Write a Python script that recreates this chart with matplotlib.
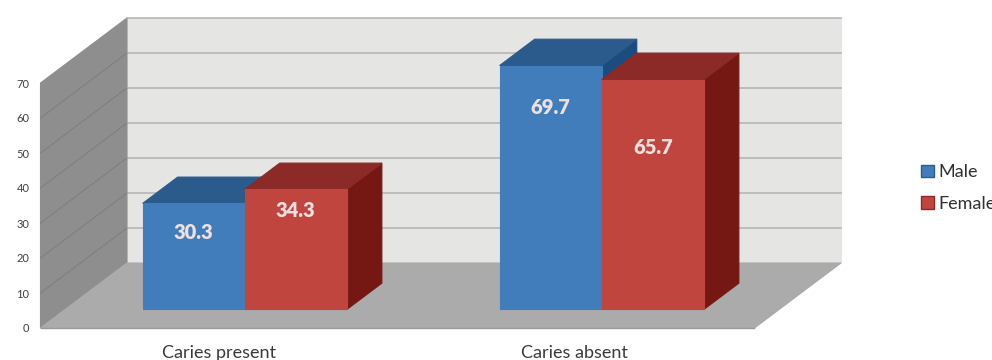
import matplotlib
matplotlib.use('Agg')
import matplotlib.pyplot as plt
from matplotlib.patches import Patch, Polygon

categories = ['Caries present', 'Caries absent']
series_names = ['Male', 'Female']
male = [30.3, 69.7]
female = [34.3, 65.7]
y_ticks = [0, 10, 20, 30, 40, 50, 60, 70]

# fake 3d: every point is sheared up and to the right by its depth z (0..1)
DX = 86.5 / 357.0
DY = 65 / 3.5
BAR_W = 0.286
BAR_Z0 = 0.285
BAR_Z1 = 0.69

BLUE = ('#427dbb', '#2a5b8c', '#1a4c7f')
RED = ('#c0453f', '#8b2a26', '#751813')


def shear(x, v, z):
    return x + z * DX, v + z * DY


def face(ax, pts, color, zorder, edge=None):
    ax.add_patch(Polygon([shear(*p) for p in pts], closed=True, facecolor=color,
                         edgecolor=edge or color, lw=0.8, zorder=zorder, clip_on=False))


def bar3d(ax, x0, v, colors, zorder):
    front, top, side = colors
    x1 = x0 + BAR_W
    z0, z1 = BAR_Z0, BAR_Z1
    face(ax, [(x1, 0, z0), (x1, v, z0), (x1, v, z1), (x1, 0, z1)], side, zorder)
    face(ax, [(x0, v, z0), (x1, v, z0), (x1, v, z1), (x0, v, z1)], top, zorder)
    face(ax, [(x0, 0, z0), (x1, 0, z0), (x1, v, z0), (x0, v, z0)], front, zorder + 0.1)


fig = plt.figure(figsize=(9.92, 3.6), dpi=100)
ax = fig.add_axes([40.5 / 992, 32 / 360, 714 / 992, 245 / 360])
ax.set_xlim(0, 2)
ax.set_ylim(0, 70)

# walls and floor
face(ax, [(0, 0, 1), (2, 0, 1), (2, 70, 1), (0, 70, 1)], '#e5e5e3', 1)
face(ax, [(0, 0, 0), (0, 70, 0), (0, 70, 1), (0, 0, 1)], '#8e8e8e', 1)
face(ax, [(0, 0, 0), (2, 0, 0), (2, 0, 1), (0, 0, 1)], '#ababab', 1.5)

for t in y_ticks[1:]:
    xb, yb = shear(0, t, 1)
    xe, ye = shear(2, t, 1)
    ax.plot([xb, xe], [yb, ye], color='#b2b2b2', lw=1.1, zorder=2, clip_on=False)
    if t < 70:
        xf, yf = shear(0, t, 0)
        ax.plot([xf, xb], [yf, yb], color='#7f7f7f', lw=0.8, zorder=2, clip_on=False)
ax.plot([0, 2], [0, 0], color='#9a9a9a', lw=1.0, zorder=2, clip_on=False)

# bars, back to front so the red ones cover the blue side faces
label_drop = [[29, 42], [21, 68]]
for i in range(len(categories)):
    centre = i + 0.503
    for j, (vals, cols) in enumerate([(male, BLUE), (female, RED)]):
        x0 = centre - BAR_W + j * BAR_W
        bar3d(ax, x0, vals[i], cols, 3 + i + j * 0.5)
        ax.annotate(f'{vals[i]:.1f}', shear(x0 + BAR_W / 2, vals[i], BAR_Z0),
                    xytext=(0, -label_drop[j][i]), textcoords='offset pixels',
                    ha='center', va='center', color='#efdfdf', fontsize=14.5,
                    fontweight='heavy', family='Lato', zorder=10, annotation_clip=False)

ax.set_yticks(y_ticks)
ax.set_xticks([0.5, 1.495])
ax.set_xticklabels(categories, family='Lato', fontsize=13, color='#3a3a3a')
ax.tick_params(axis='x', length=0, pad=12)
ax.tick_params(axis='y', length=0, pad=8, labelsize=8, labelcolor='#404040')
for lab in ax.get_yticklabels():
    lab.set_family('Lato')
for sp in ax.spines.values():
    sp.set_visible(False)

handles = [Patch(facecolor=BLUE[0], edgecolor='#2a5b8c', label=series_names[0]),
           Patch(facecolor=RED[0], edgecolor='#8b2a26', label=series_names[1])]
fig.legend(handles=handles, loc='center left', bbox_to_anchor=(916 / 992, 1 - 188 / 360),
           frameon=False, handlelength=0.7, handleheight=0.7, handletextpad=0.25,
           labelspacing=0.85, prop={'family': 'Lato', 'size': 13},
           labelcolor='#303030', borderpad=0.3, borderaxespad=0)

fig.savefig('out.png', dpi=100)
